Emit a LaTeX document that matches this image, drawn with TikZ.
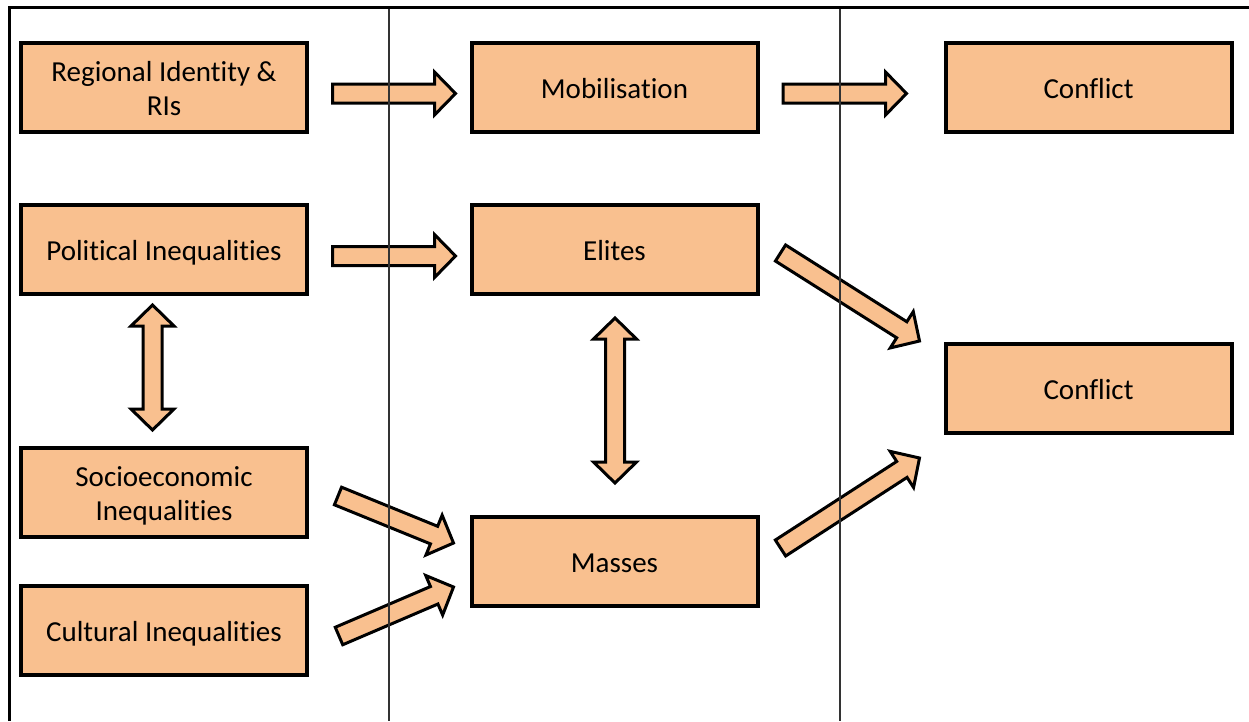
\documentclass[tikz,border=0pt]{standalone}
\usepackage{fontspec}
\setmainfont[RawFeature={-liga;-clig;-dlig;-calt;-hlig}]{Carlito}
\usetikzlibrary{calc}
\definecolor{peach}{HTML}{F9C08F}
\newcommand\bxstrut{\rule[-6pt]{0pt}{33pt}}
\tikzset{
  box/.style={draw=black, fill=peach, line width=4pt, minimum width=286pt, minimum height=89pt,
    inner sep=0pt, align=center, font=\fontsize{29}{34}\selectfont, outer sep=2pt},
  barrow/.style={draw=black, fill=peach, line width=3pt, line join=miter},
  divider/.style={draw=black!80, line width=1.2pt},
  frame/.style={draw=black, line width=3pt}
}
\newcommand\blockarrow[2]{%
  \coordinate (hb) at ($(#2)!21pt!(#1)$);
  \draw[barrow] ($(#1)!9.5pt!90:(#2)$) -- ($(hb)!9.5pt!90:(#2)$) -- ($(hb)!21.5pt!90:(#2)$) -- (#2)
    -- ($(hb)!21.5pt!-90:(#2)$) -- ($(hb)!9.5pt!-90:(#2)$) -- ($(#1)!9.5pt!-90:(#2)$) -- cycle;}
\newcommand\dblockarrow[2]{%
  \coordinate (hba) at ($(#1)!21pt!(#2)$);
  \coordinate (hbb) at ($(#2)!21pt!(#1)$);
  \draw[barrow] (#1) -- ($(hba)!21.5pt!90:(#2)$) -- ($(hba)!9.5pt!90:(#2)$) -- ($(hbb)!9.5pt!90:(#2)$)
    -- ($(hbb)!21.5pt!90:(#2)$) -- (#2) -- ($(hbb)!21.5pt!-90:(#2)$) -- ($(hbb)!9.5pt!-90:(#2)$)
    -- ($(hba)!9.5pt!-90:(#2)$) -- ($(hba)!21.5pt!-90:(#2)$) -- cycle;}
\begin{document}
\begin{tikzpicture}[x=1pt,y=-1pt]
\useasboundingbox (0,0) rectangle (1249,721);
% boxes
\node[box] (reg) at (164,87.5) {\bxstrut Regional Identity \&\\\bxstrut RIs};
\node[box] (mob) at (614.5,87.5) {\bxstrut Mobilisation};
\node[box] (con1) at (1088.5,87.5) {\bxstrut Conflict};
\node[box] (pol) at (164,249.5) {\bxstrut Political Inequalities};
\node[box] (eli) at (614.5,249.5) {\bxstrut Elites};
\node[box] (con2) at (1088.5,388.5) {\bxstrut Conflict};
\node[box] (soc) at (164,492.5) {\bxstrut Socioeconomic\\\bxstrut Inequalities};
\node[box] (mas) at (614.5,561.5) {\bxstrut Masses};
\node[box] (cul) at (164,630.5) {\bxstrut Cultural Inequalities};
% arrow end points
\coordinate (a1t) at ($(reg.east)+(23.5,6)$);
\coordinate (a1h) at ($(mob.west)+(-14,6)$);
\coordinate (a2t) at ($(mob.east)+(23.5,6)$);
\coordinate (a2h) at ($(con1.west)+(-37,6)$);
\coordinate (a3t) at ($(pol.east)+(23.5,6.5)$);
\coordinate (a3h) at ($(eli.west)+(-14,6.5)$);
\coordinate (a4t) at ($(pol.south)+(-11.5,9)$);
\coordinate (a4h) at ($(soc.north)+(-11.5,-16)$);
\coordinate (a5t) at ($(eli.south)+(0.5,22)$);
\coordinate (a5h) at ($(mas.north)+(0.5,-32)$);
\coordinate (a6t) at ($(soc.east)+(29,3.5)$);
\coordinate (a6h) at ($(mas.west)+(-16,-18.5)$);
\coordinate (a7t) at ($(cul.east)+(30,5.5)$);
\coordinate (a7h) at ($(mas.west)+(-16,25.5)$);
\coordinate (a8t) at ($(eli.east)+(21,3.5)$);
\coordinate (a8h) at ($(con2.west)+(-24,-47.5)$);
\coordinate (a9t) at ($(mas.east)+(21,-13.5)$);
\coordinate (a9h) at ($(con2.west)+(-24,69.5)$);
\blockarrow{a1t}{a1h}
\blockarrow{a2t}{a2h}
\blockarrow{a3t}{a3h}
\dblockarrow{a4t}{a4h}
\dblockarrow{a5t}{a5h}
\blockarrow{a6t}{a6h}
\blockarrow{a7t}{a7h}
\blockarrow{a8t}{a8h}
\blockarrow{a9t}{a9h}
% frame and dividers
\draw[divider] (389,7.5) -- (389,721);
\draw[divider] (840,7.5) -- (840,721);
\draw[frame] (9.5,721) -- (9.5,7.5) -- (1249,7.5);
\end{tikzpicture}
\end{document}
